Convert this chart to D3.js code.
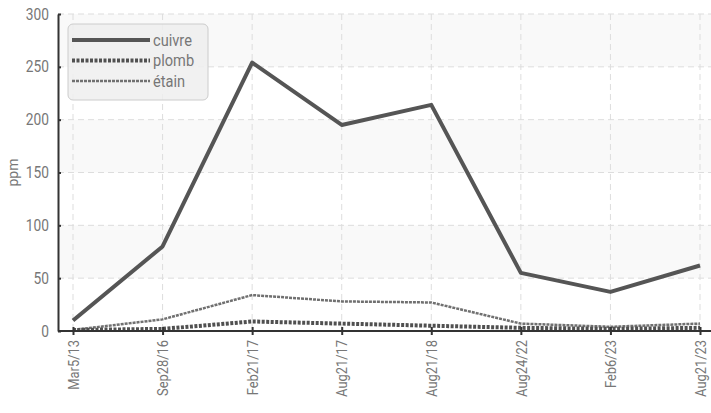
<!DOCTYPE html>
<html>
<head>
<meta charset="utf-8">
<script src="https://cdn.jsdelivr.net/npm/d3@7"></script>
<style>
  body { margin: 0; background: #fff; }
  svg text { font-family: "Roboto", sans-serif; fill: #777; }
</style>
</head>
<body>
<div id="chart"></div>
<script>
const dates = ["Mar5/13", "Sep28/16", "Feb21/17", "Aug21/17", "Aug21/18", "Aug24/22", "Feb6/23", "Aug21/23"];
const cuivre = [10, 80, 254, 195, 214, 55, 37, 62];
const plomb = [1, 2, 9, 7, 5, 3, 2, 3];
const etain = [1, 11, 34, 28, 27, 7, 4, 7];
const yTicks = [0, 50, 100, 150, 200, 250, 300];
const bands = [[50, 100], [150, 200], [250, 300]];

const series = [
  { name: "cuivre", values: cuivre, color: "#555", width: 4, dash: null },
  { name: "plomb", values: plomb, color: "#505050", width: 4, dash: "3 1.5" },
  { name: "étain", values: etain, color: "#707070", width: 2.5, dash: "3 1" }
];

const width = 711, height = 413;
const plotLeft = 58, plotRight = 711, plotTop = 14, plotBottom = 331;
const squeeze = 0.86; // condensed look for the tick labels

const svg = d3.select("#chart").append("svg")
  .attr("width", width)
  .attr("height", height);

const x = d3.scalePoint().domain(dates).range([73, 700]);
const y = d3.scaleLinear().domain([0, 300]).range([plotBottom, plotTop]);

// alternating bands
svg.append("g").selectAll("rect").data(bands).enter().append("rect")
  .attr("x", plotLeft)
  .attr("width", plotRight - plotLeft)
  .attr("y", d => y(d[1]))
  .attr("height", d => y(d[0]) - y(d[1]))
  .style("fill", "#f9f9f9");

// grid
svg.append("g").selectAll("line").data(yTicks.slice(1)).enter().append("line")
  .attr("x1", plotLeft).attr("x2", plotRight)
  .attr("y1", d => y(d)).attr("y2", d => y(d))
  .style("stroke", "#ddd").style("stroke-dasharray", "6 4");

svg.append("g").selectAll("line").data(dates).enter().append("line")
  .attr("x1", d => x(d)).attr("x2", d => x(d))
  .attr("y1", plotTop).attr("y2", plotBottom)
  .style("stroke", "#ddd").style("stroke-dasharray", "6 4");

// lines
let line = d3.line()
  .x((d, i) => x(dates[i]))
  .y(d => y(d));

series.slice().reverse().forEach(s => {
  svg.append("path")
    .attr("d", line(s.values))
    .style("fill", "none")
    .style("stroke", s.color)
    .style("stroke-width", s.width)
    .style("stroke-linejoin", "round")
    .style("stroke-dasharray", s.dash);
});

// y axis
let yAxis = svg.append("g")
  .attr("transform", `translate(${plotLeft},0)`)
  .call(d3.axisLeft(y).tickValues(yTicks).tickSize(5).tickSizeOuter(0));
yAxis.selectAll("text")
  .style("font-size", "16px")
  .attr("x", 0)
  .attr("transform", `translate(-9,0) scale(${squeeze},1)`);
yAxis.selectAll(".tick line").attr("x2", 3);

// x axis
let xAxis = svg.append("g")
  .attr("transform", `translate(0,${plotBottom})`)
  .call(d3.axisBottom(x).tickSize(4).tickSizeOuter(0));
xAxis.select(".domain").attr("d", `M${plotLeft},0H${plotRight}`);
xAxis.selectAll(".tick line").attr("y1", -4);
xAxis.selectAll("text")
  .style("font-size", "15px")
  .style("text-anchor", "end")
  .attr("transform", `rotate(-90) scale(${squeeze},1)`)
  .attr("x", -9 / squeeze)
  .attr("y", 0)
  .attr("dy", "0.35em");

svg.selectAll(".domain, .tick line").style("stroke", "#333").style("stroke-width", 2);

svg.append("text")
  .attr("transform", `translate(18,${(plotTop + plotBottom) / 2}) rotate(-90)`)
  .style("text-anchor", "middle")
  .style("font-size", "14px")
  .text("ppm");

// legend
let legend = svg.append("g").attr("transform", "translate(68,24)");
legend.append("rect")
  .attr("width", 140).attr("height", 76)
  .attr("rx", 5)
  .style("fill", "#eee").style("fill-opacity", 0.85)
  .style("stroke", "#ccc");
series.forEach((s, i) => {
  let g = legend.append("g").attr("transform", `translate(4,${16 + i * 20.5})`);
  g.append("line")
    .attr("x1", 0).attr("x2", 78)
    .style("stroke", s.color)
    .style("stroke-width", s.width)
    .style("stroke-dasharray", s.dash);
  g.append("text")
    .attr("x", 81 / squeeze).attr("dy", "0.35em")
    .attr("transform", `scale(${squeeze},1)`)
    .style("font-size", "17px")
    .text(s.name);
});
</script>
</body>
</html>
